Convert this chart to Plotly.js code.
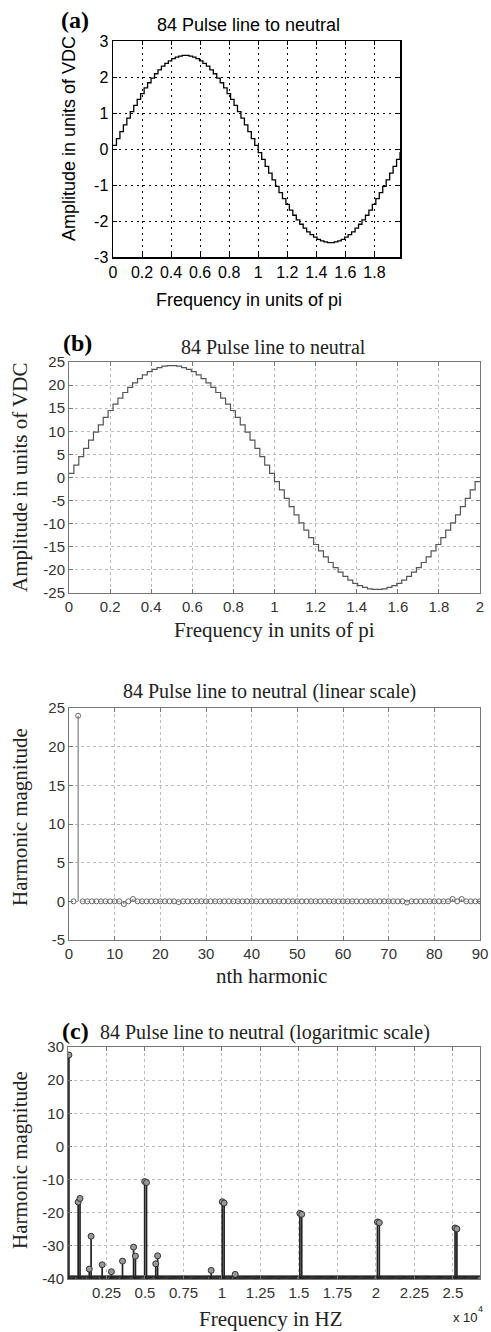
<!DOCTYPE html>
<html>
<head>
<meta charset="utf-8">
<script src="https://cdn.plot.ly/plotly-3.0.1.min.js"></script>
<style>html,body{margin:0;padding:0;background:#fff;}#chart{width:491px;height:1332px;}</style>
</head>
<body>
<div id="chart"></div>
<script>
// ---------- DATA ----------
// (a) 84-pulse staircase, 84 steps per period (values in units of VDC)
const waveA = [
  0.10,0.29,0.48,0.67,0.86,1.04,1.21,1.38,1.54,1.70,1.84,1.97,2.09,2.20,2.30,2.38,2.45,2.51,2.55,2.58,2.60,
  2.60,2.58,2.55,2.51,2.45,2.38,2.30,2.20,2.09,1.97,1.84,1.70,1.54,1.38,1.21,1.04,0.86,0.67,0.48,0.29,0.10,
  -0.10,-0.29,-0.48,-0.67,-0.86,-1.04,-1.21,-1.38,-1.54,-1.70,-1.84,-1.97,-2.09,-2.20,-2.30,-2.38,-2.45,-2.51,-2.55,-2.58,-2.60,
  -2.60,-2.58,-2.55,-2.51,-2.45,-2.38,-2.30,-2.20,-2.09,-1.97,-1.84,-1.70,-1.54,-1.38,-1.21,-1.04,-0.86,-0.67,-0.48,-0.29,-0.10,
  -0.10
];
// (b) 84-pulse staircase, amplitude ~24
const waveB = [
  0.9,2.7,4.5,6.3,8.1,9.8,11.4,13.0,14.5,15.9,17.2,18.4,19.5,20.5,21.4,22.2,22.9,23.4,23.8,24.1,24.2,
  24.2,24.1,23.8,23.4,22.9,22.2,21.4,20.5,19.5,18.4,17.2,15.9,14.5,13.0,11.4,9.8,8.1,6.3,4.5,2.7,0.9,
  -0.9,-2.7,-4.5,-6.3,-8.1,-9.8,-11.4,-13.0,-14.5,-15.9,-17.2,-18.4,-19.5,-20.5,-21.4,-22.2,-22.9,-23.4,-23.8,-24.1,-24.2,
  -24.2,-24.1,-23.8,-23.4,-22.9,-22.2,-21.4,-20.5,-19.5,-18.4,-17.2,-15.9,-14.5,-13.0,-11.4,-9.8,-8.1,-6.3,-4.5,-2.7,-0.9,
  -0.9
];
const stepsPerPeriod = 42; // samples per unit of pi

// linear-scale harmonic magnitudes, index n = 1..90
const linMag = [
  0,24,0,0,0,0,0,0,0,0,
  0,-0.35,0,0.3,0,0,0,0,0,0,
  0,0,0,-0.1,0,0,0,0,0,0,
  0,0,0,0,0,0,0,0,0,0,
  0,0,0,0,0,0,0,0,0,0,
  0,0,0,0,0,0,0,0,0,0,
  0,0,0,0,0,0,0,0,0,0,
  0,0,0,-0.15,0,0,0,0,0,0,
  0,0,0,0.3,0,0.3,0,0,0,0
];

// logarithmic-scale spectrum (dB) : harmonic orders with visible peaks
const fundamentalHz = 60;
const cOrders = [1, 11, 13, 23, 25, 37, 47, 59, 71, 73, 83, 85, 95, 97, 155, 167, 169, 181, 251, 253, 335, 337, 419, 421];
const cDb     = [27.6, -16.8, -15.7, -37.0, -27.1, -35.7, -37.8, -34.6, -30.4, -33.1, -10.6, -10.9, -35.4, -33.0, -37.4, -16.7, -17.1, -38.6, -20.2, -20.5, -22.8, -23.0, -24.6, -24.9];
const cFloorDb = -40;      // every other harmonic sits at (is clipped to) the floor
const cMaxOrder = 446;

// tick labels
const aXTicks = [0,0.2,0.4,0.6,0.8,1,1.2,1.4,1.6,1.8];
const aXText  = ['0','0.2','0.4','0.6','0.8','1','1.2','1.4','1.6','1.8'];
const aYTicks = [-3,-2,-1,0,1,2,3];
const aYText  = ['-3','-2','-1','0','1','2','3'];
const bXTicks = [0,0.2,0.4,0.6,0.8,1,1.2,1.4,1.6,1.8,2];
const bXText  = ['0','0.2','0.4','0.6','0.8','1','1.2','1.4','1.6','1.8','2'];
const bYTicks = [-25,-20,-15,-10,-5,0,5,10,15,20,25];
const bYText  = ['-25','-20','-15','-10','-5','0','5','10','15','20','25'];
const lXTicks = [0,10,20,30,40,50,60,70,80,90];
const lXText  = ['0','10','20','30','40','50','60','70','80','90'];
const lYTicks = [-5,0,5,10,15,20,25];
const lYText  = ['-5','0','5','10','15','20','25'];
const cXTicks = [2500,5000,7500,10000,12500,15000,17500,20000,22500,25000];
const cXText  = ['0.25','0.5','0.75','1','1.25','1.5','1.75','2','2.25','2.5'];
const cYTicks = [-40,-30,-20,-10,0,10,20,30];
const cYText  = ['-40','-30','-20','-10','0','10','20','30'];

// ---------- LAYOUT HELPERS ----------
const W = 491, H = 1332;
const px = x => x / W;
const py = y => 1 - y / H;
const SANS = 'Liberation Sans, Arial, Helvetica, sans-serif';
const SERIF = 'Liberation Serif, Times New Roman, serif';

// ---------- TRACES ----------
const traces = [];
traces.push({type:'scatter', mode:'lines', x0:0, dx:1/stepsPerPeriod, y:waveA,
  line:{shape:'hv', color:'#000', width:1.3}, xaxis:'x', yaxis:'y', hoverinfo:'skip'});
traces.push({type:'scatter', mode:'lines', x0:0, dx:1/stepsPerPeriod, y:waveB,
  line:{shape:'hv', color:'#555', width:1.2}, xaxis:'x2', yaxis:'y2', hoverinfo:'skip'});

// linear stems
const lsx = [], lsy = [], lmx = [];
linMag.forEach((v,i) => { const n = i+1; lmx.push(n); if (v !== 0) { lsx.push(n,n,null); lsy.push(0,v,null); } });
traces.push({type:'scatter', mode:'lines', x:lsx, y:lsy, line:{color:'#666', width:1}, xaxis:'x3', yaxis:'y3', hoverinfo:'skip'});
traces.push({type:'scatter', mode:'markers', x:lmx, y:linMag,
  marker:{symbol:'circle-open', size:5, color:'#666', line:{width:1, color:'#666'}}, xaxis:'x3', yaxis:'y3', hoverinfo:'skip'});

// log spectrum
const fx = [], fy = [];
for (let h = 1; h <= cMaxOrder; h++) { if (cOrders.indexOf(h) < 0) { fx.push(h*fundamentalHz); fy.push(cFloorDb); } }
traces.push({type:'scatter', mode:'markers', x:fx, y:fy,
  marker:{symbol:'circle', size:6, color:'#777', line:{width:1, color:'#222'}}, xaxis:'x4', yaxis:'y4', hoverinfo:'skip'});
const csx = [], csy = [], cmx = [];
cOrders.forEach((h,i) => { const f = h*fundamentalHz; cmx.push(f); csx.push(f,f,null); csy.push(cFloorDb,cDb[i],null); });
traces.push({type:'scatter', mode:'lines', x:csx, y:csy, line:{color:'#222', width:1.7}, xaxis:'x4', yaxis:'y4', hoverinfo:'skip'});
traces.push({type:'scatter', mode:'markers', x:cmx, y:cDb,
  marker:{symbol:'circle', size:6, color:'#999', line:{width:1, color:'#333'}}, xaxis:'x4', yaxis:'y4', hoverinfo:'skip'});

// ---------- AXES ----------
function ax(o, black){
  return Object.assign({
    showline:true, mirror:'ticks', linecolor: black ? '#000' : '#777', linewidth: black ? 1.5 : 1,
    ticks:'inside', ticklen:4, tickcolor: black ? '#000' : '#777', tickwidth:1,
    showgrid:true, gridcolor: black ? '#000' : '#bbb', gridwidth:1, griddash: black ? '2px,4px' : 'dot',
    zeroline:false, tickmode:'array', fixedrange:true,
    tickfont:{family:SANS, size: black ? 16 : 15, color: black ? '#000' : '#333'}
  }, o);
}

const layout = {
  width:W, height:H, autosize:false, showlegend:false,
  margin:{l:0,r:0,t:0,b:0}, paper_bgcolor:'#fff', plot_bgcolor:'#fff',
  xaxis:  ax({domain:[px(113),px(400)], range:[0,1.976], tickvals:aXTicks, ticktext:aXText, anchor:'y'}, true),
  yaxis:  ax({domain:[py(257),py(41)], range:[-3,3], tickvals:aYTicks, ticktext:aYText, anchor:'x'}, true),
  xaxis2: ax({domain:[px(69),px(480)], range:[0,2], tickvals:bXTicks, ticktext:bXText, anchor:'y2'}),
  yaxis2: ax({domain:[py(593),py(362)], range:[-25,25], tickvals:bYTicks, ticktext:bYText, anchor:'x2'}),
  xaxis3: ax({domain:[px(69),px(480)], range:[0,90], tickvals:lXTicks, ticktext:lXText, anchor:'y3'}),
  yaxis3: ax({domain:[py(940),py(708)], range:[-5,25], tickvals:lYTicks, ticktext:lYText, anchor:'x3'}),
  xaxis4: ax({domain:[px(68),px(480)], range:[0,26760], tickvals:cXTicks, ticktext:cXText, anchor:'y4'}),
  yaxis4: ax({domain:[py(1279),py(1047)], range:[-40,30], tickvals:cYTicks, ticktext:cYText, anchor:'x4'}),
  annotations: []
};

function note(text, x, y, font, extra){
  layout.annotations.push(Object.assign({text, x:px(x), y:py(y), xref:'paper', yref:'paper',
    showarrow:false, xanchor:'center', yanchor:'middle', font}, extra||{}));
}
const fA = {family:SANS, size:18, color:'#000'};
const fS = {family:SERIF, size:20, color:'#222'};
const fSA = {family:SERIF, size:21, color:'#222'};
const fL = {family:SERIF, size:24, color:'#000', weight:'bold'};

// panel (a)
note('(a)', 75, 20, fL);
note('84 Pulse line to neutral', 249, 25, fA);
note('Amplitude in units of VDC', 69, 139, fA, {textangle:-90});
note('Frequency in units of pi', 249, 300, fA);
// panel (b)
note('(b)', 77, 343, fL);
note('84 Pulse line to neutral', 273, 347, fS);
note('Amplitude in units of VDC', 20, 478, fSA, {textangle:-90});
note('Frequency in units of pi', 274, 630, fSA);
// linear panel
note('84 Pulse line to neutral (linear scale)', 269, 692, fS);
note('Harmonic magnitude', 20, 817, fSA, {textangle:-90});
note('nth harmonic', 271, 976, fSA);
// panel (c)
note('(c)', 75, 1031, fL);
note('84 Pulse line to neutral (logaritmic scale)', 265, 1032, fS);
note('Harmonic magnitude', 20, 1160, fSA, {textangle:-90});
note('Frequency in HZ', 270, 1319, fSA);
note('x 10', 465, 1317, {family:SANS, size:13, color:'#222'});
note('4', 480, 1309, {family:SANS, size:9, color:'#222'});

Plotly.newPlot('chart', traces, layout, {staticPlot:true, displayModeBar:false});
</script>
</body>
</html>
